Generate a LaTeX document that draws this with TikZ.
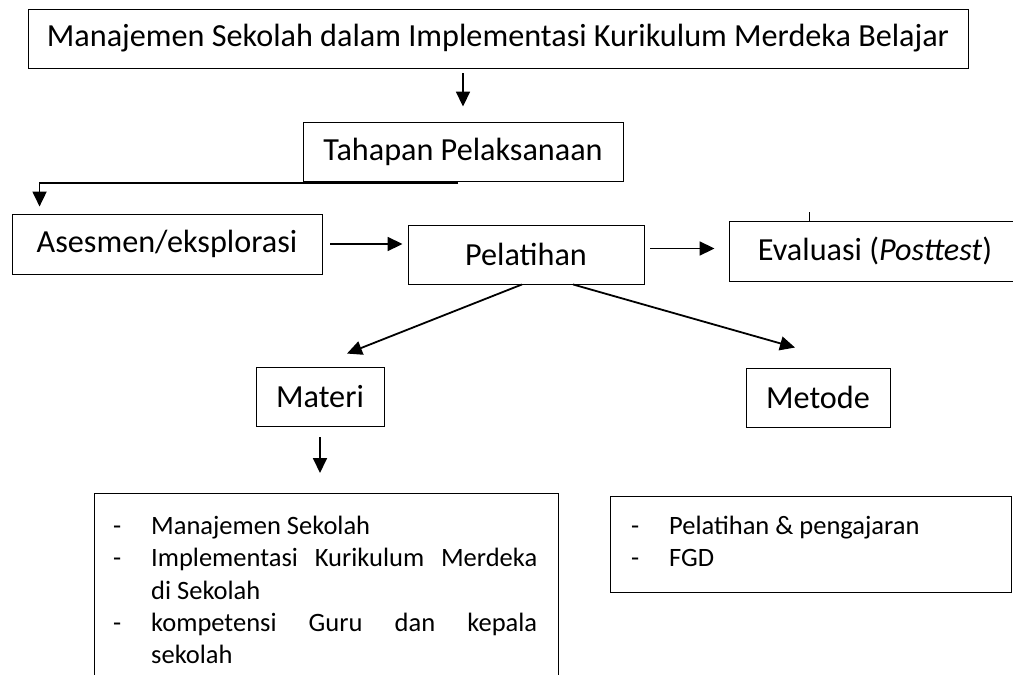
\documentclass[tikz,border=0pt]{standalone}
\usepackage{fontspec}
\setmainfont{Carlito}
\usetikzlibrary{positioning,arrows.meta,calc}

\setlength{\parskip}{0pt}
\newlength{\dashindent}
\setlength{\dashindent}{38pt}
\newcommand{\dashitem}[1]{\par\noindent\hangindent=\dashindent\hangafter=1\rule{0pt}{20pt}\makebox[\dashindent][l]{-}#1}

\begin{document}
\begin{tikzpicture}[
    x=1pt, y=-1pt,
    >={Triangle[length=15pt,width=14pt]},
    box/.style={
        rectangle,
        draw,
        line width=0.9pt,
        minimum height=59pt,
        inner sep=0pt,
        font=\fontsize{32.2}{38}\selectfont
    },
    listbox/.style={rectangle, draw, line width=0.9pt, inner sep=0pt},
    listtext/.style={
        inner sep=0pt,
        anchor=north west,
        align=justify,
        font=\fontsize{26.5}{32.3}\selectfont
    },
    arrow/.style={->, line width=1.8pt}
]
\useasboundingbox (0,0) rectangle (1013,675);

\node[box, minimum width=940pt] (judul) at (498,38.5) {Manajemen Sekolah dalam Implementasi Kurikulum Merdeka Belajar};
\node[box, minimum width=320pt] (tahapan) at (463,151.5) {Tahapan Pelaksanaan};
\node[box, minimum width=310pt, minimum height=60pt] (asesmen) at (167,244) {Asesmen/eksplorasi};
\node[box, minimum width=236pt] (pelatihan) at (526,254.5) {Pelatihan};
\node[box, minimum width=292pt, minimum height=60pt] (evaluasi) at (875,251) {Evaluasi (\textit{Posttest})};
\node[box, minimum width=128pt] (materi) at (320,396.5) {Materi};
\node[box, minimum width=144pt] (metode) at (818,397.5) {Metode};

% rincian materi dan metode
\node[listbox, minimum width=464pt, minimum height=230pt, anchor=north] (isiMateri) at (326,493) {};
\node[listbox, minimum width=401pt, minimum height=96pt] (isiMetode) at (810.5,544) {};
\node[listtext, text width=424pt] (teksMateri) at (113,502) {\dashitem{Manajemen Sekolah}\dashitem{Implementasi Kurikulum Merdeka\linebreak di Sekolah}\dashitem{kompetensi Guru dan kepala\linebreak sekolah}\par};
\node[listtext, text width=360pt] (teksMetode) at (631,502) {\dashitem{Pelatihan \& pengajaran}\dashitem{FGD}\par};

% panah
\coordinate (kanan) at ([yshift=6pt]pelatihan.east);
\draw[arrow, shorten <=5pt, shorten >=15pt] (judul.south -| tahapan.north) -- (tahapan.north);
\draw[arrow] ([xshift=-5pt,yshift=-1.5pt]tahapan.south) -| ([xshift=28pt,yshift=7pt]asesmen.north west);
\draw[arrow, shorten <=8pt, shorten >=5pt] (asesmen.east) -- (asesmen.east -| pelatihan.west);
\draw[arrow, shorten <=6pt, shorten >=14pt] (kanan) -- (kanan -| evaluasi.west);
\draw[arrow] ([xshift=-4pt]pelatihan.south) -- ([xshift=27pt,yshift=13pt]materi.north);
\draw[arrow] ([xshift=47pt]pelatihan.south) -- ([xshift=-23pt,yshift=20pt]metode.north);
\draw[arrow, shorten <=11pt, shorten >=20pt] (materi.south) -- (materi.south |- isiMateri.north);
\draw[line width=0.9pt] ([xshift=81pt]evaluasi.north west) -- ++(0,-9);

\end{tikzpicture}
\end{document}
